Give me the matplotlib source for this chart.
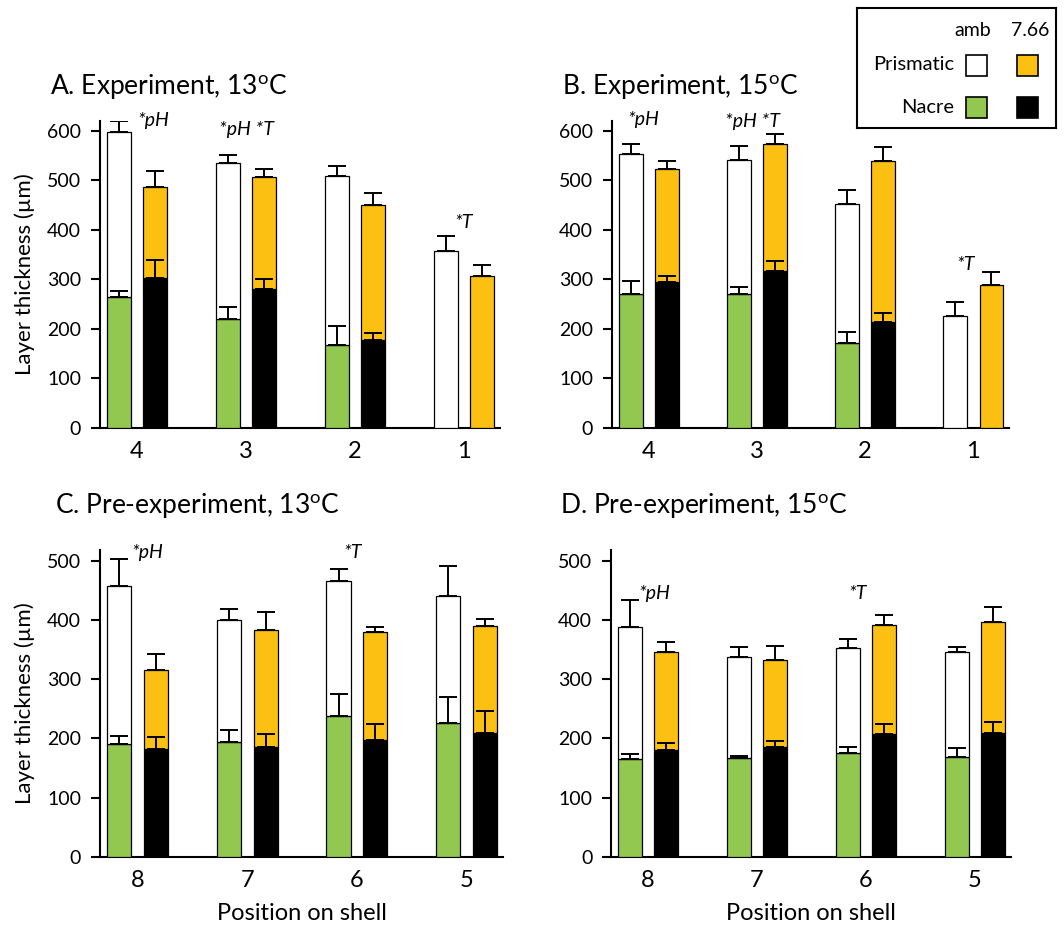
import numpy as np
import matplotlib.pyplot as plt
from matplotlib.patches import Rectangle

plt.rcParams['font.family'] = ['Lato', 'DejaVu Sans']
plt.rcParams['mathtext.fontset'] = 'custom'
plt.rcParams['mathtext.rm'] = 'Lato'
plt.rcParams['mathtext.it'] = 'Lato:italic'

green = '#92C850'
gold = '#FBC012'

pos_exp = ['4', '3', '2', '1']
pos_pre = ['8', '7', '6', '5']

# A. Experiment, 13C  (amb = ambient pH, low = pH 7.66)
a_nacre_amb = [264, 221, 168, 0]
a_nacre_amb_err = [12, 24, 38, 0]
a_prism_amb = [333, 314, 340, 357]
a_prism_amb_err = [22, 16, 22, 30]
a_nacre_low = [302, 281, 178, 0]
a_nacre_low_err = [37, 19, 14, 0]
a_prism_low = [185, 226, 273, 306]
a_prism_low_err = [33, 17, 23, 23]

# B. Experiment, 15C
b_nacre_amb = [271, 271, 172, 0]
b_nacre_amb_err = [26, 14, 21, 0]
b_prism_amb = [282, 270, 281, 227]
b_prism_amb_err = [20, 29, 28, 27]
b_nacre_low = [294, 318, 214, 0]
b_nacre_low_err = [13, 19, 18, 0]
b_prism_low = [230, 256, 326, 288]
b_prism_low_err = [16, 19, 27, 27]

# C. Pre-experiment, 13C
c_nacre_amb = [190, 194, 238, 226]
c_nacre_amb_err = [15, 20, 37, 44]
c_prism_amb = [267, 206, 228, 214]
c_prism_amb_err = [46, 18, 20, 51]
c_nacre_low = [183, 186, 198, 210]
c_nacre_low_err = [19, 22, 26, 36]
c_prism_low = [132, 197, 181, 179]
c_prism_low_err = [27, 30, 9, 13]

# D. Pre-experiment, 15C
d_nacre_amb = [166, 167, 175, 168]
d_nacre_amb_err = [8, 4, 10, 16]
d_prism_amb = [222, 170, 177, 178]
d_prism_amb_err = [46, 18, 15, 9]
d_nacre_low = [180, 185, 208, 209]
d_nacre_low_err = [13, 11, 16, 19]
d_prism_low = [166, 147, 183, 187]
d_prism_low_err = [17, 24, 18, 25]

# significance labels: (position, y, text, ha)
a_notes = [(0.0, 622, '*pH', 'left'), (1.0, 602, '*pH *T', 'center'), (3.0, 416, '*T', 'center')]
b_notes = [(-0.055, 624, '*pH', 'center'), (0.96, 620, '*pH *T', 'center'), (2.93, 331, '*T', 'center')]
c_notes = [(-0.05, 513, '*pH', 'left'), (1.96, 513, '*T', 'center')]
d_notes = [(-0.09, 445, '*pH', 'left'), (1.92, 445, '*T', 'center')]

W, H = 1064, 930
fig = plt.figure(figsize=(W / 100, H / 100), dpi=100)

bw = 0.22
off = 0.168


def errs(ax, x, top, err):
    x = np.asarray(x)
    top = np.asarray(top, dtype=float)
    err = np.asarray(err, dtype=float)
    m = err > 0
    ax.errorbar(x[m], top[m], yerr=[np.zeros(m.sum()), err[m]], fmt='none',
                ecolor='black', elinewidth=1.4, capsize=6.5, capthick=1.4, zorder=5)


def panel(rect, labels, n_amb, n_amb_e, p_amb, p_amb_e, n_low, n_low_e, p_low, p_low_e,
          ymax, ystep, notes, title, title_xy, ylabel=False, xlabel=False):
    ax = fig.add_axes([rect[0] / W, 1 - rect[3] / H, (rect[2] - rect[0]) / W, (rect[3] - rect[1]) / H])
    x = np.arange(len(labels))
    xa, xl = x - off, x + off
    t_amb = np.add(n_amb, p_amb)
    t_low = np.add(n_low, p_low)
    kw = dict(width=bw, edgecolor='black', linewidth=0.9, zorder=3)
    ax.bar(xa, n_amb, color=green, **kw)
    ax.bar(xa, p_amb, bottom=n_amb, color='white', **kw)
    ax.bar(xl, n_low, color='black', **kw)
    ax.bar(xl, p_low, bottom=n_low, color=gold, **kw)
    errs(ax, xa, t_amb, p_amb_e)
    errs(ax, xl, t_low, p_low_e)
    errs(ax, xa, n_amb, n_amb_e)
    errs(ax, xl, n_low, n_low_e)

    ax.set_xlim(-0.34, 3.33)
    ax.set_ylim(0, ymax)
    ax.set_yticks(np.arange(0, ymax, ystep))
    ax.set_xticks(x)
    ax.set_xticklabels(labels)
    ax.tick_params(axis='y', length=6.5, width=1.5, labelsize=14, pad=7)
    ax.tick_params(axis='x', length=0, labelsize=17, pad=9)
    for s in ['top', 'right']:
        ax.spines[s].set_visible(False)
    for s in ['left', 'bottom']:
        ax.spines[s].set_linewidth(1.5)
    for nx, ny, txt, ha in notes:
        ax.text(nx, ny, txt, ha=ha, va='center', fontsize=14, style='italic')
    if ylabel:
        ax.set_ylabel('Layer thickness (µm)', fontsize=16, labelpad=9)
    if xlabel:
        ax.set_xlabel('Position on shell', fontsize=17, labelpad=9)
    fig.text(title_xy[0] / W, 1 - title_xy[1] / H, title, fontsize=19, ha='left', va='center')
    return ax


panel((100, 121, 500, 428), pos_exp, a_nacre_amb, a_nacre_amb_err, a_prism_amb, a_prism_amb_err,
      a_nacre_low, a_nacre_low_err, a_prism_low, a_prism_low_err, 620, 100, a_notes,
      r'A. Experiment, 13$^{\mathrm{o}}$C', (50, 86), ylabel=True)
panel((612, 121, 1009, 428), pos_exp, b_nacre_amb, b_nacre_amb_err, b_prism_amb, b_prism_amb_err,
      b_nacre_low, b_nacre_low_err, b_prism_low, b_prism_low_err, 620, 100, b_notes,
      r'B. Experiment, 15$^{\mathrm{o}}$C', (562, 86))
panel((100, 550, 503, 857), pos_pre, c_nacre_amb, c_nacre_amb_err, c_prism_amb, c_prism_amb_err,
      c_nacre_low, c_nacre_low_err, c_prism_low, c_prism_low_err, 518, 100, c_notes,
      r'C. Pre-experiment, 13$^{\mathrm{o}}$C', (55, 505), ylabel=True, xlabel=True)
panel((611, 550, 1011, 857), pos_pre, d_nacre_amb, d_nacre_amb_err, d_prism_amb, d_prism_amb_err,
      d_nacre_low, d_nacre_low_err, d_prism_low, d_prism_low_err, 518, 100, d_notes,
      r'D. Pre-experiment, 15$^{\mathrm{o}}$C', (560, 505), xlabel=True)

# legend box
lg = fig.add_axes([857 / W, 1 - 128 / H, 199 / W, 120 / H])
lg.set_xlim(0, 199)
lg.set_ylim(120, 0)
lg.set_xticks([])
lg.set_yticks([])
for s in lg.spines.values():
    s.set_linewidth(1.5)
lg.text(116, 22, 'amb', ha='center', va='center', fontsize=14)
lg.text(173, 22, '7.66', ha='center', va='center', fontsize=14)
lg.text(97, 57, 'Prismatic', ha='right', va='center', fontsize=14.5)
lg.text(97, 99, 'Nacre', ha='right', va='center', fontsize=14.5)
for (lx, ly, col) in [(109, 47, 'white'), (160, 47, gold), (109, 89, green), (160, 89, 'black')]:
    lg.add_patch(Rectangle((lx, ly), 21, 21, facecolor=col, edgecolor='black', linewidth=1.2))

fig.savefig('out.png', dpi=100)
